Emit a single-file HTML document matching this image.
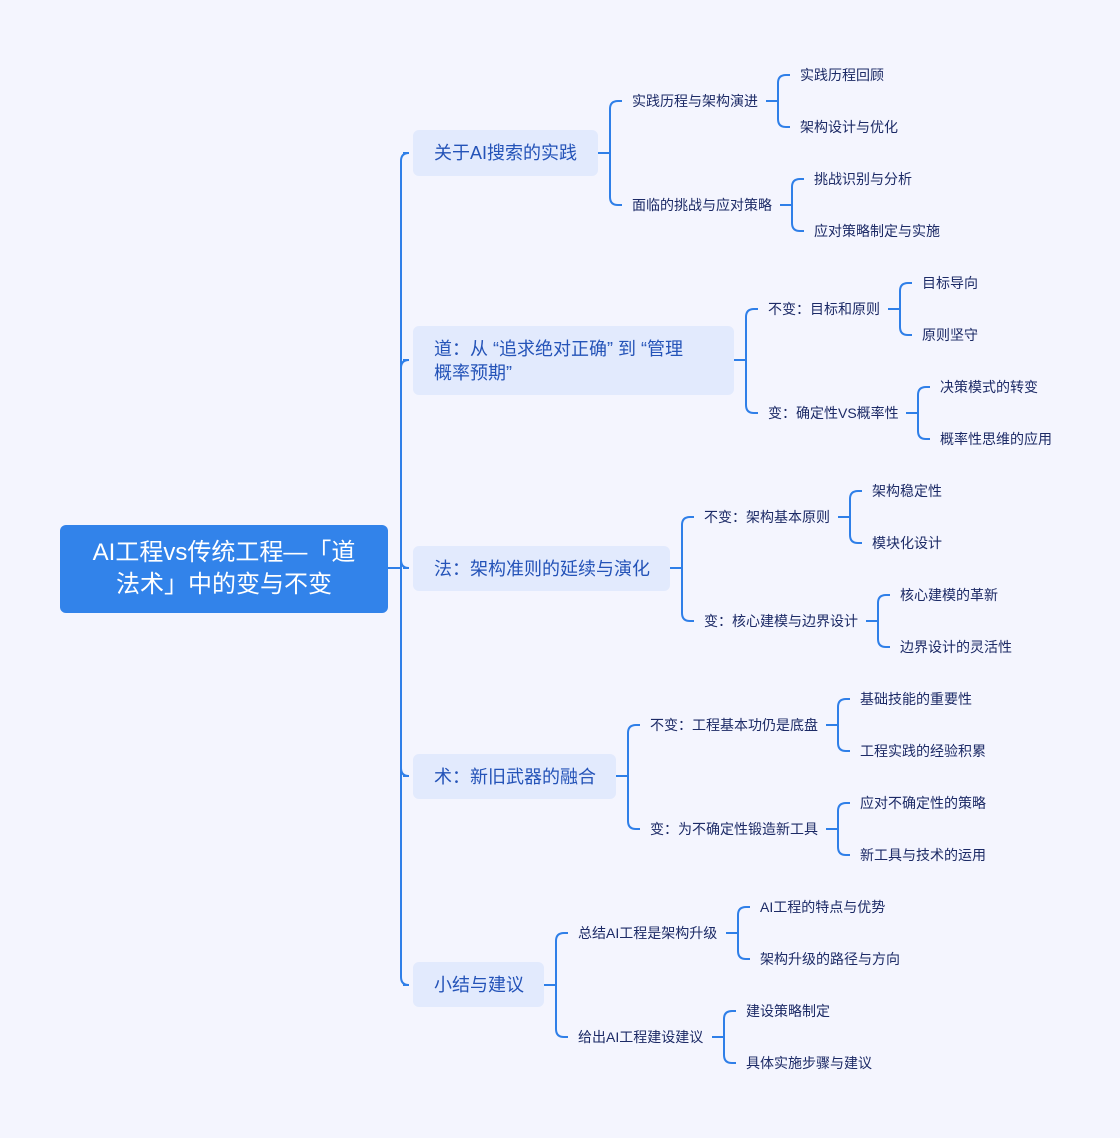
<!DOCTYPE html>
<html><head><meta charset="utf-8"><style>
body{margin:0;background:#f4f5fe;}
#c{position:relative;width:1120px;height:1138px;overflow:hidden;background:#f4f5fe;font-family:"Liberation Sans","Noto Sans CJK SC",sans-serif;}
svg{position:absolute;left:0;top:0;}
.root{position:absolute;left:60px;top:525px;width:328px;height:88px;background:#3283ea;border-radius:6px;color:#fff;font-size:24px;line-height:32px;text-align:center;display:flex;align-items:center;justify-content:center;}
.b{position:absolute;background:#e2eafd;border-radius:6px;color:#2453b8;font-size:18px;line-height:24px;padding:0 0 0 21px;box-sizing:border-box;display:flex;align-items:center;white-space:nowrap;}
.t{position:absolute;font-size:14px;color:#1c2a66;line-height:20px;white-space:nowrap;transform:translateY(-50%);}
</style></head><body><div id="c">
<svg id="s" width="1120" height="1138"></svg>
<div class="root"><div>AI工程vs传统工程—「道<br>法术」中的变与不变</div></div>
<div class="b" style="left:413px;top:130px;width:185px;height:46px">关于AI搜索的实践</div>
<div class="b" style="left:413px;top:326px;width:321px;height:69px">道：从&nbsp;“追求绝对正确”&nbsp;到&nbsp;“管理<br>概率预期”</div>
<div class="b" style="left:413px;top:546px;width:257px;height:45px">法：架构准则的延续与演化</div>
<div class="b" style="left:413px;top:754px;width:203px;height:45px">术：新旧武器的融合</div>
<div class="b" style="left:413px;top:962px;width:131px;height:45px">小结与建议</div>

<div class="t" style="left:632px;top:101px">实践历程与架构演进</div>
<div class="t" style="left:632px;top:205px">面临的挑战与应对策略</div>
<div class="t" style="left:800px;top:75px">实践历程回顾</div>
<div class="t" style="left:800px;top:127px">架构设计与优化</div>
<div class="t" style="left:814px;top:179px">挑战识别与分析</div>
<div class="t" style="left:814px;top:231px">应对策略制定与实施</div>

<div class="t" style="left:768px;top:309px">不变：目标和原则</div>
<div class="t" style="left:768px;top:413px">变：确定性VS概率性</div>
<div class="t" style="left:922px;top:283px">目标导向</div>
<div class="t" style="left:922px;top:335px">原则坚守</div>
<div class="t" style="left:940px;top:387px">决策模式的转变</div>
<div class="t" style="left:940px;top:439px">概率性思维的应用</div>

<div class="t" style="left:704px;top:517px">不变：架构基本原则</div>
<div class="t" style="left:704px;top:621px">变：核心建模与边界设计</div>
<div class="t" style="left:872px;top:491px">架构稳定性</div>
<div class="t" style="left:872px;top:543px">模块化设计</div>
<div class="t" style="left:900px;top:595px">核心建模的革新</div>
<div class="t" style="left:900px;top:647px">边界设计的灵活性</div>

<div class="t" style="left:650px;top:725px">不变：工程基本功仍是底盘</div>
<div class="t" style="left:650px;top:829px">变：为不确定性锻造新工具</div>
<div class="t" style="left:860px;top:699px">基础技能的重要性</div>
<div class="t" style="left:860px;top:751px">工程实践的经验积累</div>
<div class="t" style="left:860px;top:803px">应对不确定性的策略</div>
<div class="t" style="left:860px;top:855px">新工具与技术的运用</div>

<div class="t" style="left:578px;top:933px">总结AI工程是架构升级</div>
<div class="t" style="left:578px;top:1037px">给出AI工程建设建议</div>
<div class="t" style="left:760px;top:907px">AI工程的特点与优势</div>
<div class="t" style="left:760px;top:959px">架构升级的路径与方向</div>
<div class="t" style="left:746px;top:1011px">建设策略制定</div>
<div class="t" style="left:746px;top:1063px">具体实施步骤与建议</div>
</div>
<script>
var d="";
function br(x0,ym,bx,ys,tx){
 d+="M"+x0+","+ym+"L"+bx+","+ym;
 ys.forEach(function(y){
  var r=8,s=y<ym?1:-1;
  d+="M"+bx+","+ym+"L"+bx+","+(y+s*r)+"Q"+bx+","+y+" "+(bx+r)+","+y+"L"+(tx-10)+","+y;
 });
}
br(388,568,401,[153,360,568,776,985],413);
br(598,153,610,[101,205],632);
br(766,101,778,[75,127],800);
br(780,205,792,[179,231],814);
br(734,360,746,[309,413],768);
br(888,309,900,[283,335],922);
br(906,413,918,[387,439],940);
br(670,568,682,[517,621],704);
br(838,517,850,[491,543],872);
br(866,621,878,[595,647],900);
br(616,776,628,[725,829],650);
br(826,725,838,[699,751],860);
br(826,829,838,[803,855],860);
br(544,985,556,[933,1037],578);
br(726,933,738,[907,959],760);
br(712,1037,724,[1011,1063],746);
document.getElementById("s").innerHTML='<path d="'+d+'" fill="none" stroke="#2f7fe8" stroke-width="2"/>';
</script>
</body></html>
